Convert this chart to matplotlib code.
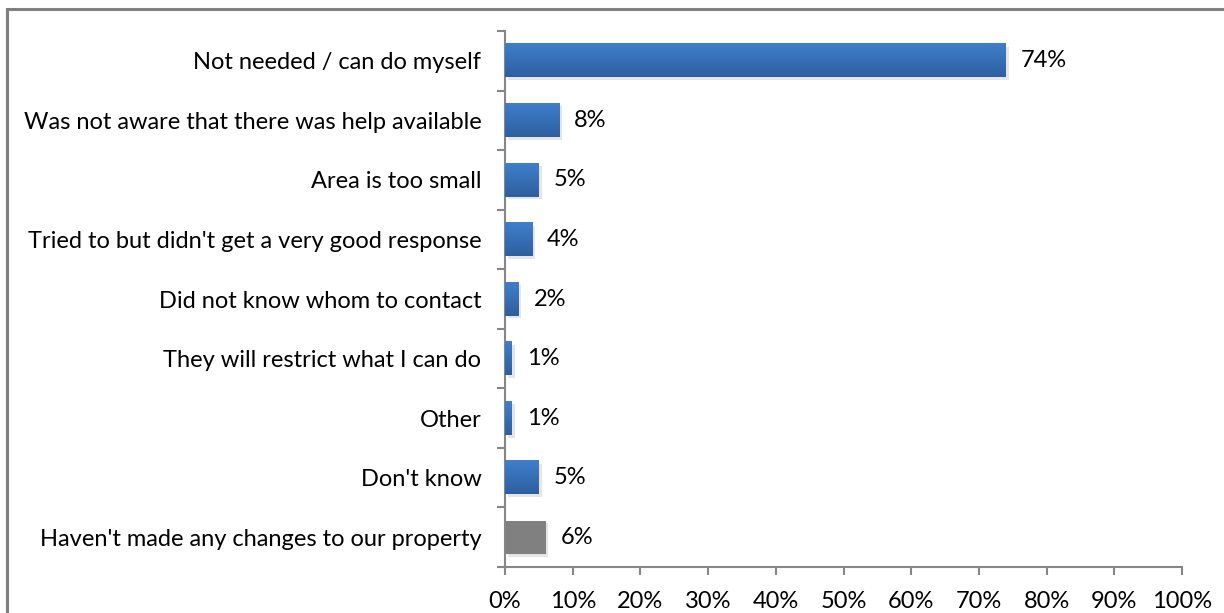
import matplotlib
matplotlib.use("Agg")
import matplotlib.pyplot as plt
import numpy as np
from matplotlib.colors import LinearSegmentedColormap
from matplotlib.patches import Rectangle
from matplotlib import patheffects

categories = [
    "Not needed / can do myself",
    "Was not aware that there was help available",
    "Area is too small",
    "Tried to but didn't get a very good response",
    "Did not know whom to contact",
    "They will restrict what I can do",
    "Other",
    "Don't know",
    "Haven't made any changes to our property",
]
values = [74, 8, 5, 4, 2, 1, 1, 5, 6]
gray_flags = [False, False, False, False, False, False, False, False, True]
x_ticks = [0, 10, 20, 30, 40, 50, 60, 70, 80, 90, 100]

plt.rcParams["font.family"] = ["Lato", "DejaVu Sans"]
axis_col = "#868686"
fs = 17

fig = plt.figure(figsize=(12.24, 6.13), dpi=100)
ax = fig.add_axes([0.4126, 0.075, 0.5531, 0.8744])

pos = np.arange(len(categories))
bar_h = 0.56
shadow = [patheffects.SimplePatchShadow(offset=(2, -2), alpha=0.15, shadow_rgbFace="#555555"),
          patheffects.Normal()]
bars = ax.barh(pos, values, height=bar_h,
               color=["#808080" if g else "#3a73bd" for g in gray_flags],
               edgecolor="none", zorder=2)
for b in bars:
    b.set_path_effects(shadow)

# vertical gradient over the blue bars
blue_grad = LinearSegmentedColormap.from_list("bg", ["#3f7fcc", "#2d5f9f"])
grad = np.linspace(0, 1, 64).reshape(-1, 1)
for b, g in zip(bars, gray_flags):
    if g:
        continue
    x0, y0 = b.get_x(), b.get_y()
    ax.imshow(grad, cmap=blue_grad, aspect="auto", zorder=3,
              extent=[x0, x0 + b.get_width(), y0 + b.get_height(), y0],
              interpolation="bilinear")

for p, v in zip(pos, values):
    ax.text(v + 2.2, p, f"{v}%", va="center", ha="left", fontsize=fs, color="black")

ax.set_xlim(0, 100)
ax.set_ylim(len(categories) - 0.5, -0.5)
ax.set_aspect("auto")
ax.set_xticks(x_ticks)
ax.set_xticklabels([f"{t}%" for t in x_ticks], fontsize=fs)
ax.set_yticks(pos)
ax.set_yticklabels(categories, fontsize=fs)
ax.set_yticks(np.arange(-0.5, len(categories), 1.0), minor=True)
ax.tick_params(axis="y", which="major", length=0, pad=17)
ax.tick_params(axis="y", which="minor", length=6, color=axis_col, width=1.5)
ax.tick_params(axis="x", length=6, color=axis_col, width=1.5, pad=11)

for s in ["top", "right"]:
    ax.spines[s].set_visible(False)
for s in ["left", "bottom"]:
    ax.spines[s].set_color(axis_col)
    ax.spines[s].set_linewidth(1.5)

# outer chart border, cut off at the right and bottom
fig.patches.append(Rectangle((7 / 1224, -0.1), 1.2, 1 - 9 / 613 + 0.1,
                             transform=fig.transFigure, fill=False,
                             edgecolor="#7f7f7f", linewidth=2.2))

fig.savefig("out.png", dpi=100)
